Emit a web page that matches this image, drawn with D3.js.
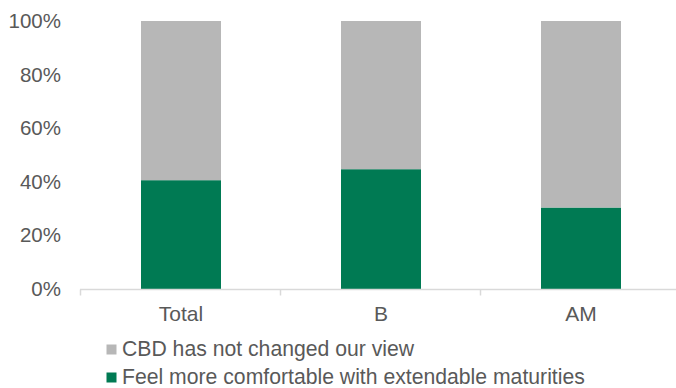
<!DOCTYPE html>
<html>
<head>
<meta charset="utf-8">
<script src="https://cdn.jsdelivr.net/npm/d3@7"></script>
<style>
  html, body { margin: 0; padding: 0; background: #fff; }
  svg { display: block; font-family: "Liberation Sans", Arial, sans-serif; }
</style>
</head>
<body>
<svg id="chart" width="676" height="388"></svg>
<script>
// Survey responses by group (share of respondents)
const categories = ["Total", "B", "AM"];
const comfortable = [0.406, 0.447, 0.304];   // Feel more comfortable with extendable maturities
const unchanged = [0.594, 0.553, 0.696];     // CBD has not changed our view
const yTicks = [0, 0.2, 0.4, 0.6, 0.8, 1.0];
const seriesNames = ["CBD has not changed our view", "Feel more comfortable with extendable maturities"];
const seriesColors = ["#B7B7B7", "#007A53"];

const svg = d3.select("#chart");
const textColor = "#595959";

const x = d3.scaleBand()
  .domain(categories)
  .range([81, 681])
  .paddingInner(0.6)
  .paddingOuter(0.3);

const y = d3.scaleLinear().domain([0, 1]).range([289, 21]);

// stacked rows: green at the bottom, grey on top
const rows = categories.map((c, i) => ({ cat: c, comfortable: comfortable[i], unchanged: unchanged[i] }));
const stack = d3.stack().keys(["comfortable", "unchanged"]);
const layers = stack(rows);
const layerColor = { comfortable: seriesColors[1], unchanged: seriesColors[0] };

svg.append("g").selectAll("g")
  .data(layers)
  .join("g")
  .attr("fill", d => layerColor[d.key])
  .selectAll("rect")
  .data(d => d)
  .join("rect")
  .attr("x", d => x(d.data.cat))
  .attr("width", x.bandwidth())
  .attr("y", d => y(d[1]))
  .attr("height", d => y(d[0]) - y(d[1]));

// y axis labels
const yAxis = d3.axisLeft(y)
  .tickValues(yTicks)
  .tickFormat(d3.format(".0%"))
  .tickSize(0)
  .tickPadding(0);
const gy = svg.append("g").attr("transform", "translate(61,0)").call(yAxis);
gy.select(".domain").remove();
gy.selectAll("text")
  .attr("fill", textColor)
  .style("font-size", "20.5px")
  .style("font-family", "'Liberation Sans', Arial, sans-serif");

// x axis: baseline with ticks at category boundaries
const axisY = 289.5;
svg.append("line")
  .attr("x1", 80).attr("x2", 676)
  .attr("y1", axisY).attr("y2", axisY)
  .attr("stroke", "#D9D9D9").attr("stroke-width", 1.5);

const step = x.step();
const boundaries = categories.map((c, i) => i === 0
  ? x(c) - step * x.paddingOuter()
  : x(c) - step * x.paddingInner() / 2);
svg.append("g").selectAll("line")
  .data(boundaries)
  .join("line")
  .attr("x1", d => Math.round(d) - 0.5).attr("x2", d => Math.round(d) - 0.5)
  .attr("y1", axisY).attr("y2", axisY + 6)
  .attr("stroke", "#D9D9D9").attr("stroke-width", 1.5);

svg.append("g").selectAll("text")
  .data(categories)
  .join("text")
  .attr("x", d => x(d) + x.bandwidth() / 2)
  .attr("y", 321)
  .attr("text-anchor", "middle")
  .attr("fill", textColor)
  .style("font-size", "21px")
  .text(d => d);

// legend
const legend = svg.append("g");
const legendRows = seriesNames.map((n, i) => ({ name: n, color: seriesColors[i], baseline: 356 + i * 28 }));
legend.selectAll("rect")
  .data(legendRows)
  .join("rect")
  .attr("x", 106.5)
  .attr("y", d => d.baseline - 11.5)
  .attr("width", 10)
  .attr("height", 10)
  .attr("fill", d => d.color);
legend.selectAll("text")
  .data(legendRows)
  .join("text")
  .attr("x", 122)
  .attr("y", d => d.baseline)
  .attr("fill", textColor)
  .style("font-size", "21.2px")
  .text(d => d.name);
</script>
</body>
</html>
